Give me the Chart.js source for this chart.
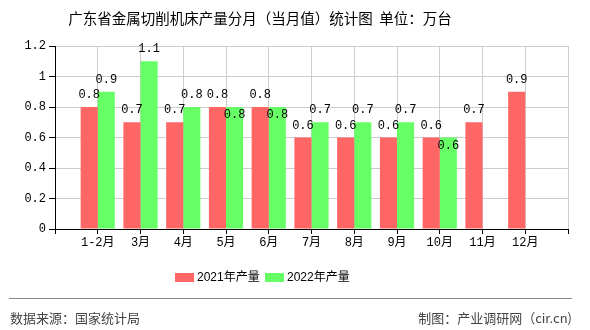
<!DOCTYPE html>
<html>
<head>
<meta charset="utf-8">
<script src="https://cdn.jsdelivr.net/npm/chart.js@4"></script>
<style>
    html, body { margin: 0; padding: 0; background: #fff; }
    #wrap { position: relative; width: 590px; height: 330px; }
    #title {
        position: absolute; left: 0; top: 7px; width: 520px;
        text-align: center; font: 14.5px "Noto Sans CJK SC", sans-serif; color: #000;
        white-space: pre;
    }
    #rule { position: absolute; left: 9px; top: 298px; width: 563px; height: 0; border-top: 1px solid #888; }
    .foot { position: absolute; top: 308px; font: 13px "Noto Sans CJK SC", sans-serif; color: #444; }
</style>
</head>
<body>
<div id="wrap">
    <canvas id="myChart" width="590" height="330"></canvas>
    <div id="title">广东省金属切削机床产量分月（当月值）统计图  单位：万台</div>
    <div id="rule"></div>
    <div class="foot" style="left:10px">数据来源：国家统计局</div>
    <div class="foot" style="right:18px">制图：产业调研网（cir.cn)</div>
</div>
<script>
// 月份 (首尾为空刻度)
const labels = ["", "1-2月", "3月", "4月", "5月", "6月", "7月", "8月", "9月", "10月", "11月", "12月", ""];

const seriesNames = ["2021年产量", "2022年产量"];

const data2021 = [null, 0.8, 0.7, 0.7, 0.8, 0.8, 0.6, 0.6, 0.6, 0.6, 0.7, 0.9, null];
const data2022 = [null, 0.9, 1.1, 0.8, 0.8, 0.8, 0.7, 0.7, 0.7, 0.6, null, null, null];

const colors = ["#ff6666", "#66ff66"];

const labelFont = '12px "Liberation Mono", "Noto Sans CJK SC", monospace';

// 数值标签
const valueLabels = {
    id: "valueLabels",
    afterDatasetsDraw(chart) {
        const ctx = chart.ctx;
        ctx.save();
        ctx.font = labelFont;
        ctx.fillStyle = "#000";
        ctx.textAlign = "center";
        ctx.textBaseline = "middle";
        chart.data.datasets.forEach((ds, di) => {
            const meta = chart.getDatasetMeta(di);
            meta.data.forEach((bar, i) => {
                const v = ds.data[i];
                if (v == null) return;
                let y = bar.y - 12;
                // 与左侧柱同高时标签放在柱内
                if (di === 1 && data2021[i] === v) y = bar.y + 8;
                ctx.fillText(v.toFixed(1), bar.x, y);
            });
        });
        ctx.restore();
    }
};

// 图例
const legendBox = {
    id: "legendBox",
    afterDraw(chart) {
        const ctx = chart.ctx;
        ctx.save();
        ctx.font = '12px "Liberation Sans", "Noto Sans CJK SC", sans-serif';
        ctx.textBaseline = "middle";
        ctx.textAlign = "left";
        const xs = [175, 265];
        seriesNames.forEach((name, i) => {
            ctx.fillStyle = colors[i];
            ctx.fillRect(xs[i], 273, 19, 9);
            ctx.fillStyle = "#000";
            ctx.fillText(name, xs[i] + 22, 277.5);
        });
        ctx.restore();
    }
};

new Chart(document.getElementById("myChart"), {
    type: "bar",
    data: {
        labels: labels,
        datasets: [
            { label: seriesNames[0], data: data2021, backgroundColor: colors[0] },
            { label: seriesNames[1], data: data2022, backgroundColor: colors[1] }
        ]
    },
    options: {
        responsive: false,
        animation: false,
        events: [],
        datasets: { bar: { categoryPercentage: 0.8, barPercentage: 1.0 } },
        layout: { padding: { left: 0, top: 46, right: 22, bottom: 0 } },
        plugins: {
            legend: { display: false },
            title: { display: false },
            tooltip: { enabled: false }
        },
        scales: {
            x: {
                offset: false,
                grid: { offset: false, color: "#cccccc", tickColor: "#000", tickLength: 5 },
                border: { color: "#000" },
                ticks: {
                    autoSkip: false, maxRotation: 0, padding: 2,
                    color: "#000",
                    font: { family: '"Liberation Mono", "Noto Sans CJK SC", monospace', size: 12 }
                },
                afterFit: s => { s.height = 101; }
            },
            y: {
                min: 0, max: 1.2,
                grid: { color: "#cccccc", tickColor: "#000", tickLength: 6 },
                border: { color: "#000" },
                ticks: {
                    stepSize: 0.2, padding: 3, color: "#000",
                    font: { family: '"Liberation Mono", monospace', size: 12 },
                    callback: v => String(+v.toFixed(1))
                },
                afterFit: s => { s.width = 55; }
            }
        }
    },
    plugins: [valueLabels, legendBox]
});
</script>
</body>
</html>
